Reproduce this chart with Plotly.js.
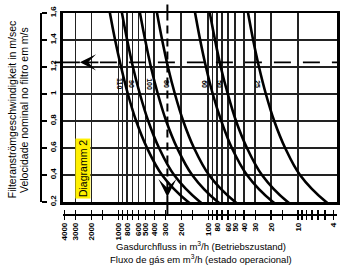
<!DOCTYPE html>
<html><head><meta charset="utf-8">
<script src="https://cdn.plot.ly/plotly-3.0.1.min.js"></script>
<style>html,body{margin:0;padding:0;background:#fff;}#chart{width:341px;height:270px;}</style>
</head><body><div id="chart"></div>
<script>
// velocity levels (m/s) at which each curve was read
const velocityLevels = [1.7, 1.6, 1.4, 1.2, 1.0, 0.8, 0.6, 0.4, 0.2, 0.15];
// gas flow (m3/h) of each curve at those velocity levels
const curve110 = [1320, 1245, 1090, 935, 785, 635, 480, 327, 167, 127];
const curve90  = [970, 914, 800, 690, 577, 466, 353, 240, 123, 94];
const curve100 = [612, 576, 504, 435, 364, 294, 222, 151, 78, 59];
const curve80  = [395, 372, 326, 281, 235, 190, 144, 98, 50, 38];
const curve60  = [149, 140, 123, 106, 89, 71.5, 54.5, 37, 19, 14.4];
const curve50  = [102, 96, 84, 72.5, 60.5, 49, 37, 25.2, 13, 9.8];
const curve25  = [38.4, 36, 31.6, 27.2, 22.8, 18.4, 13.9, 9.5, 4.85, 3.7];
const curveLabels = ['110', '90', '100', '80', '60', '50', '25'];

// x axis ticks (flow) and grid
const xTickVals = [4000, 3000, 2000, 1500, 1000, 900, 800, 700, 600, 500, 400, 300, 200, 150, 100, 90, 80, 70, 60, 50, 40, 30, 20, 15, 10, 9, 8, 7, 6, 5, 4];
const xTickText = ['4000', '3000', '2000', '', '1000', '', '800', '', '600', '500', '400', '300', '200', '', '100', '', '80', '', '60', '50', '40', '30', '20', '', '10', '', '', '', '', '', '4'];
const xGridVals = [3000, 2000, 1000, 900, 800, 700, 600, 500, 400, 200, 100, 90, 80, 70, 60, 50, 40, 30, 20, 10];
// y axis ticks (velocity)
const yTickVals = [0.2, 0.4, 0.6, 0.8, 1.0, 1.2, 1.4, 1.6];
const yTickText = ['0,2', '0,4', '0,6', '0,8', '1', '1,2', '1,4', '1,6'];

// example reading: flow and velocity
const readingQ = [285, 285];
const readingV = [1.7, 0.36];
const readingArrowV = [0.36, 0.237];
const hLineQ = [1610, 1.0, 1.0];
const hLineV = [1.235, 1.235, 1.235];
const hArrowQ = [1610, 2690, 5370];

const curves = [curve110, curve90, curve100, curve80, curve60, curve50, curve25];
const lg = v => Math.log10(v);
const FONT = 'Liberation Sans, Arial, Helvetica, sans-serif';

const traces = curves.map(c => ({
  x: c, y: velocityLevels, xaxis: 'x', yaxis: 'y', mode: 'lines',
  line: {color: '#000', width: 2.6, shape: 'spline', smoothing: 1}, hoverinfo: 'none'
}));
traces.push({x: hLineQ, y: hLineV, xaxis: 'x2', yaxis: 'y2', mode: 'lines',
  line: {color: '#000', width: 1.8, dash: '17px,12px'}, hoverinfo: 'none'});
traces.push({x: readingQ, y: readingV, xaxis: 'x3', yaxis: 'y', mode: 'lines',
  line: {color: '#000', width: 2, dash: '8px,5px'}, hoverinfo: 'none'});

const xr = [3.618, 0.5655];
const yr = [0.2, 1.6];

const C = {xanchor: 'center', yanchor: 'middle'};
const annotations = [];
curves.forEach((c, i) => {
  annotations.push(Object.assign({x: lg(c[4]), y: velocityLevels[4], xref: 'x', yref: 'y', text: curveLabels[i],
    showarrow: false, textangle: 90, xshift: -8, yshift: 10,
    font: {family: FONT, size: 7, color: '#000', weight: 'bold'}}, C));
});
const arrowBase = {text: '', showarrow: true, arrowcolor: '#000', standoff: 0};
annotations.push(Object.assign({}, arrowBase, {xref: 'x', yref: 'y', axref: 'x', ayref: 'y',
  x: lg(hArrowQ[1]), y: hLineV[0], ax: lg(hArrowQ[0]), ay: hLineV[0], arrowhead: 3, arrowsize: 1.5, arrowwidth: 1.8}));
annotations.push(Object.assign({}, arrowBase, {xref: 'x', yref: 'y', axref: 'x', ayref: 'y',
  x: lg(hArrowQ[1]), y: hLineV[0], ax: lg(hArrowQ[2]), ay: hLineV[0], arrowhead: 0, arrowwidth: 1.8}));
annotations.push(Object.assign({}, arrowBase, {xref: 'x', yref: 'y', axref: 'x', ayref: 'y',
  x: lg(readingQ[0]), y: readingArrowV[1], ax: lg(readingQ[0]), ay: readingArrowV[0], arrowhead: 3, arrowsize: 1.5, arrowwidth: 2}));
annotations.push(Object.assign({}, arrowBase, {xref: 'x', yref: 'paper', axref: 'pixel', ayref: 'pixel',
  x: lg(readingQ[0]), y: 0, ax: 0, ay: -20, arrowhead: 0, arrowwidth: 2}));
annotations.push(Object.assign({}, arrowBase, {xref: 'x', yref: 'paper', axref: 'pixel', ayref: 'pixel',
  x: lg(readingQ[0]), y: 1, ax: 0, ay: -10, arrowhead: 0, arrowwidth: 2}));
// Diagramm label
annotations.push(Object.assign({xref: 'paper', yref: 'paper', x: 0.143, y: 0.226, text: 'Diagramm 2', showarrow: false,
  textangle: -90, bgcolor: '#FFF000', borderpad: 1, font: {family: FONT, size: 10.5, color: '#000'}}, C));
// axis titles
annotations.push(Object.assign({xref: 'paper', yref: 'paper', x: -0.094, y: 0.517, text: 'Filteranströmgeschwindigkeit in m/sec',
  showarrow: false, textangle: -90, font: {family: FONT, size: 10.5, color: '#000'}}, C));
annotations.push(Object.assign({xref: 'paper', yref: 'paper', x: -0.054, y: 0.517, text: 'Velocidade nominal no filtro em m/s',
  showarrow: false, textangle: -90, font: {family: FONT, size: 10.5, color: '#000'}}, C));
annotations.push(Object.assign({xref: 'paper', yref: 'paper', x: 0.542, y: -0.159, text: 'Gasdurchfluss in m<sup>3</sup>/h (Betriebszustand)',
  showarrow: false, font: {family: FONT, size: 9.5, color: '#000'}}, C));
annotations.push(Object.assign({xref: 'paper', yref: 'paper', x: 0.542, y: -0.224, text: 'Fluxo de gás em m<sup>3</sup>/h (estado operacional)',
  showarrow: false, font: {family: FONT, size: 9.5, color: '#000'}}, C));

const tickFont = {family: FONT, size: 8, color: '#000', weight: 'bold'};
const layout = {
  width: 341, height: 270,
  margin: {l: 40, r: 4, t: 13, b: 56, pad: 0},
  paper_bgcolor: '#fff', plot_bgcolor: '#fff',
  showlegend: false,
  font: {family: FONT, color: '#000'},
  xaxis: {type: 'log', range: xr, domain: [0.0774, 1], anchor: 'y', tickvals: xGridVals,
    showticklabels: false, ticks: '', showgrid: true, gridcolor: '#222', gridwidth: 1.6,
    showline: true, mirror: true, linecolor: '#000', linewidth: 2.5, zeroline: false},
  yaxis: {range: yr, domain: [0.0597, 1], anchor: 'x', tickvals: yTickVals,
    showticklabels: false, ticks: '', showgrid: true, gridcolor: '#222', gridwidth: 1.8,
    showline: true, mirror: true, linecolor: '#000', linewidth: 2.5, zeroline: false},
  xaxis2: {type: 'log', range: xr, overlaying: 'x', anchor: 'free', position: 0,
    tickvals: xTickVals, ticktext: xTickText, tickangle: -90, ticks: 'outside', ticklen: 4,
    tickwidth: 1.3, tickcolor: '#000', showline: true, linecolor: '#000', linewidth: 1.5,
    showgrid: false, zeroline: false, tickfont: tickFont},
  xaxis3: {type: 'log', range: xr, overlaying: 'x', anchor: 'free', position: 0,
    tickvals: xTickVals, ticks: 'inside', ticklen: 4, tickwidth: 1.3, tickcolor: '#000',
    showticklabels: false, showline: false, showgrid: false, zeroline: false},
  yaxis2: {range: yr, overlaying: 'y', anchor: 'free', position: 0, side: 'right',
    tickvals: yTickVals, ticktext: yTickText, tickangle: -90, ticks: 'outside', ticklen: 5,
    tickwidth: 1.3, tickcolor: '#000', showline: true, linecolor: '#000', linewidth: 1.5,
    showgrid: false, zeroline: false, tickfont: tickFont},
  annotations: annotations
};
Plotly.newPlot('chart', traces, layout, {staticPlot: true, displayModeBar: false});
</script></body></html>
